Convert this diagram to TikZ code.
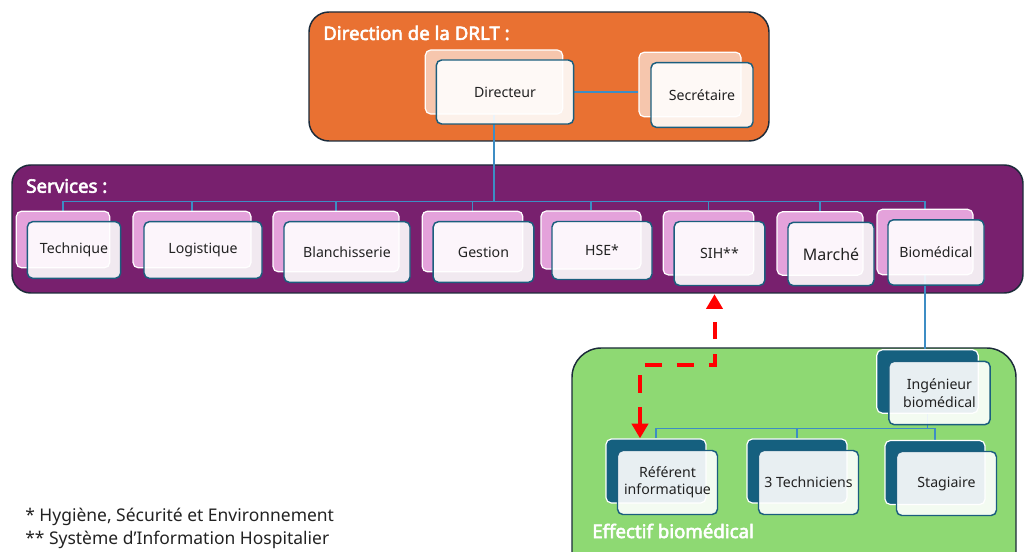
\documentclass[tikz,border=0pt]{standalone}
\usepackage{fontspec}
\setmainfont{Noto Sans}[BoldFont={Noto Sans}, BoldFeatures={FakeBold=3}]
\usetikzlibrary{positioning,calc,arrows.meta,backgrounds}

\definecolor{dirorange}{HTML}{E97132}
\definecolor{srvpurple}{HTML}{78206E}
\definecolor{biogreen}{HTML}{8ED973}
\definecolor{panelnavy}{HTML}{1C2B3A}
\definecolor{peach}{HTML}{F6C6AD}
\definecolor{orchid}{HTML}{E4A2DB}
\definecolor{petrol}{HTML}{15607F}
\definecolor{cardedge}{HTML}{1B5E7E}
\definecolor{wireblue}{HTML}{3D8DC4}
\definecolor{ink}{HTML}{222222}

\begin{document}
\begin{tikzpicture}[x=0.75pt,y=-0.75pt,
		panel/.style={draw=panelnavy, line width=1.1pt},
		paneltitle/.style={anchor=west, text=white, font=\bfseries\fontsize{14}{16}\selectfont, inner sep=0pt},
		dims/.style 2 args={minimum width=#1, minimum height=#2},
		backcard/.style={draw=white, line width=0.9pt, rounded corners=4pt},
		dirback/.style={backcard, fill=peach},
		srvback/.style={backcard, fill=orchid},
		bioback/.style={backcard, fill=petrol},
		card/.style={draw=cardedge, line width=1.1pt, fill=white, fill opacity=0.9, text opacity=1, text=ink, rounded corners=4pt, align=center, font=\fontsize{10.6}{13}\selectfont, inner sep=1pt},
		wire/.style={draw=wireblue, line width=0.8pt},
		sihlink/.style={draw=red, line width=3pt, dash pattern=on 13pt off 11pt, {Triangle[length=11pt,width=12pt]}-{Triangle[length=11pt,width=12pt]}},
		footnote/.style={anchor=west, text=ink, font=\fontsize{13.1}{15}\selectfont, inner sep=0pt}
	]
	\useasboundingbox (0,0) rectangle (1026,552);

	% the three panels
	\begin{pgfonlayer}{background}
		\draw[panel, fill=dirorange, rounded corners=15pt] (309,12) rectangle (769,141);
		\draw[panel, fill=srvpurple, rounded corners=14pt] (12,165) rectangle (1023,293);
		\draw[panel, fill=biogreen, rounded corners=22pt] (572,348) rectangle (1016,590);
	\end{pgfonlayer}
	\node[paneltitle] (dirtitle) at (323,33) {Direction de la DRLT :};
	\node[paneltitle] (srvtitle) at (26,186) {Services :};
	\node[paneltitle] (biotitle) at (592,531) {Effectif biomédical};

	% direction
	\node[dirback, dims={103pt}{48pt}] (dirB) at (494,82) {};
	\node[card, dims={103pt}{48pt}] (dir) at ($(dirB)+(11,10)$) {Directeur};
	\node[dirback, dims={76.5pt}{48.5pt}] (secB) at (690,84.5) {};
	\node[card, dims={76.5pt}{48.5pt}] (sec) at ($(secB)+(12,10.5)$) {Secrétaire};

	% services
	\node[srvback, dims={70pt}{42.5pt}] (techB) at (63,239.5) {};
	\node[card, dims={70pt}{42.5pt}] (tech) at ($(techB)+(11,10.5)$) {Technique};
	\node[srvback, dims={88.5pt}{42.5pt}] (logB) at (192,239.5) {};
	\node[card, dims={88.5pt}{42.5pt}] (log) at ($(logB)+(11,10.5)$) {Logistique};
	\node[srvback, dims={94.5pt}{45.5pt}] (blaB) at (336,241.5) {};
	\node[card, dims={94.5pt}{45.5pt}] (bla) at ($(blaB)+(11,10.5)$) {Blanchisserie};
	\node[srvback, dims={75.5pt}{45.5pt}] (gesB) at (472.5,241.5) {};
	\node[card, dims={75.5pt}{45.5pt}] (ges) at ($(gesB)+(11,10.5)$) {Gestion};
	\node[srvback, dims={75pt}{43.5pt}] (hseB) at (591,240) {};
	\node[card, dims={75pt}{43.5pt}] (hse) at ($(hseB)+(11,10.5)$) {HSE*};
	\node[srvback, dims={68pt}{48pt}] (sihB) at (708.5,243) {};
	\node[card, dims={68pt}{48pt}] (sih) at ($(sihB)+(11,10.5)$) {SIH**};
	\node[srvback, dims={64.5pt}{47.5pt}] (marB) at (820,243.5) {};
	\node[card, dims={64.5pt}{47.5pt}, font=\fontsize{12}{14}\selectfont] (mar) at ($(marB)+(11,10.5)$) {Marché};
	\node[srvback, dims={72pt}{49pt}] (bioB) at (925,242) {};
	\node[card, dims={72pt}{49pt}] (bio) at ($(bioB)+(11,10.5)$) {Biomédical};

	% biomedical staff
	\node[bioback, dims={76pt}{47.5pt}] (ingB) at (927.5,381.5) {};
	\node[card, dims={76pt}{47.5pt}] (ing) at ($(ingB)+(12,11.5)$) {Ingénieur\\biomédical};
	\node[bioback, dims={75pt}{48pt}] (refB) at (656,471) {};
	\node[card, dims={75pt}{48pt}] (ref) at ($(refB)+(11.5,11.5)$) {Référent\\informatique};
	\node[bioback, dims={75pt}{48pt}] (techsB) at (797,471) {};
	\node[card, dims={75pt}{48pt}] (techs) at ($(techsB)+(11.5,11.5)$) {3 Techniciens};
	\node[bioback, dims={75pt}{48pt}] (stagB) at (935,472.5) {};
	\node[card, dims={75pt}{48pt}] (stag) at ($(stagB)+(11.5,11)$) {Stagiaire};

	% connectors, kept under the cards
	\begin{pgfonlayer}{background}
		\draw[wire] (dir.east) -- (dir.east -| secB.west);
		\draw[wire] (dirB.south) -- ++(0,87) coordinate (sbus);
		\draw[wire] (techB.north) -- (techB.north |- sbus) -- (bioB.north |- sbus) -- (bioB.north);
		\foreach \s in {logB,blaB,gesB,hseB,sihB,marB}
			\draw[wire] (\s.north) -- (\s.north |- sbus);
		\draw[wire] (bioB.south) -- (bioB.south |- ingB.north);
		\draw[wire] (refB.north) -- ++(0,-10) coordinate (gbus) -| (stagB.north);
		\draw[wire] (techsB.north) -- (techsB.north |- gbus);
		\draw[wire] (ingB.south) -- (ingB.south |- gbus);
	\end{pgfonlayer}

	% link between SIH and the IT referent
	\coordinate (reftip) at ($(refB.north)+(-16,0)$);
	\coordinate (sihtip) at ($(sih.south)+(-5,8)$);
	\draw[sihlink] (reftip) -- ++(0,-73) -| (sihtip);

	% notes
	\node[footnote] (note1) at (25,517) {* Hygiène, Sécurité et Environnement};
	\node[footnote] (note2) at (25,540) {** Système d’Information Hospitalier};
\end{tikzpicture}
\end{document}
